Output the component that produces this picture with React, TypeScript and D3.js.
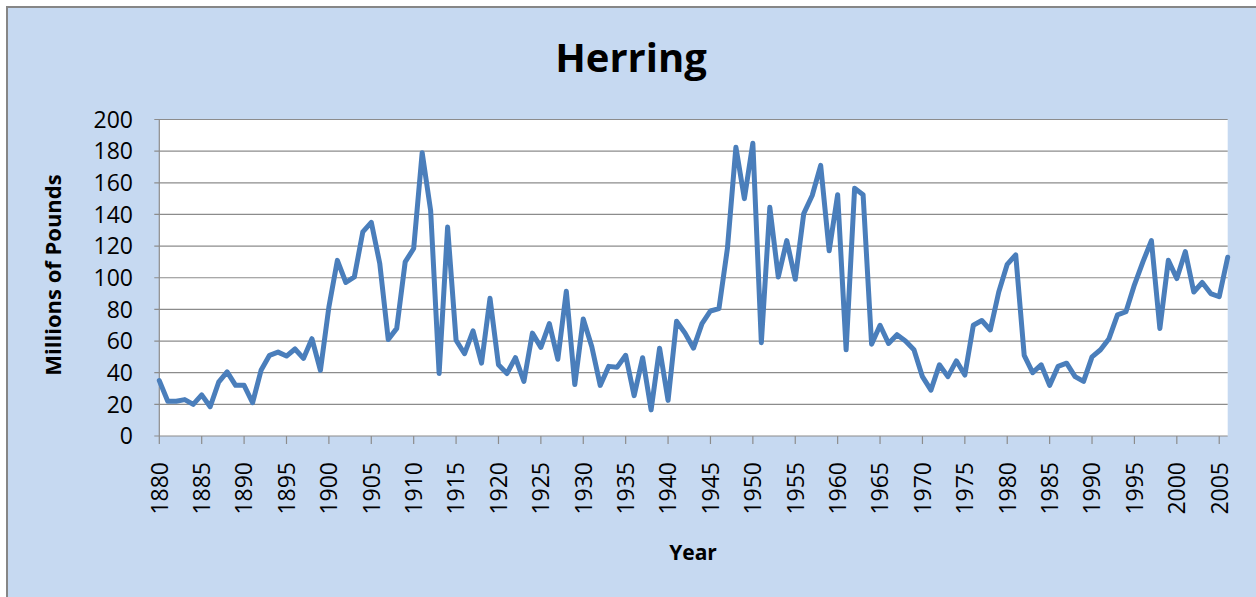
import React from "react";
import * as d3 from "d3";

const title = "Herring";
const xLabel = "Year";
const yLabel = "Millions of Pounds";
const startYear = 1880;
const endYear = 2006;
const years: number[] = d3.range(startYear, endYear + 1);
const pounds: number[] = [
  35, 22, 22, 23, 20, 26, 18.5, 34, 40.5, 32,
  32, 21, 41.5, 51, 53, 50.5, 55, 49, 61.5, 41.5,
  81.5, 111, 97, 100.5, 129, 135, 109, 61, 68, 110,
  118.5, 179, 142.5, 39.5, 132, 60.5, 52, 66.5, 46, 87,
  45, 39.5, 49.5, 34.5, 65, 56, 71, 48.5, 91.5, 32.5,
  74, 56.5, 32, 44, 43.5, 51, 25.5, 49.5, 16.5, 55.5,
  22.5, 72.5, 65, 55.5, 71, 79, 80.5, 118.5, 182.5, 150,
  185, 59, 144.5, 100.5, 123.5, 99, 140.5, 152, 171, 117,
  152.5, 54.5, 156.5, 152.5, 58, 70, 58.5, 64, 60, 54.5,
  37.5, 29, 45, 37.5, 47.5, 38.5, 70, 73, 67, 91,
  108.5, 114.5, 51, 40, 45, 32, 44, 46, 37.5, 34.5,
  50, 54.5, 61.5, 76.5, 78.5, 95.5, 110, 123.5, 68, 111,
  99.5, 116.5, 91, 97, 90, 88, 113,
];
const xTickYears: number[] = d3.range(1880, 2006, 5);
const yTicks: number[] = [0, 20, 40, 60, 80, 100, 120, 140, 160, 180, 200];

const W = 1256;
const H = 597;
const plot = { left: 159.3, right: 1227.7, top: 119.5, bottom: 436 };
const font = "'Open Sans', 'Liberation Sans', sans-serif";

export default function App() {
  const x = d3.scaleLinear().domain([startYear, endYear]).range([plot.left, plot.right]);
  const y = d3.scaleLinear().domain([0, 200]).range([plot.bottom, plot.top]);
  const line = d3
    .line<number>()
    .x((_, i) => x(years[i]))
    .y((d) => y(d));

  return (
    <svg
      width={W}
      height={H}
      style={{ position: "absolute", left: 0, top: 0, display: "block" }}
      fontFamily={font}
    >
      <rect x={0} y={0} width={W} height={H} fill="#ffffff" />
      <rect x={7} y={7} width={W + 10} height={H + 10} fill="#C6D9F1" stroke="#868686" strokeWidth={2} />
      <rect
        x={plot.left}
        y={plot.top}
        width={plot.right - plot.left}
        height={plot.bottom - plot.top}
        fill="#ffffff"
      />
      {yTicks.map((t) => (
        <g key={"y" + t}>
          <line x1={plot.left - 5} x2={plot.right} y1={y(t)} y2={y(t)} stroke="#8c8c8c" strokeWidth={1.2} />
          <text x={133} y={y(t)} dy="0.36em" textAnchor="end" fontSize={23} fill="#000">
            {t}
          </text>
        </g>
      ))}
      <line x1={plot.left} x2={plot.left} y1={plot.top} y2={plot.bottom} stroke="#8c8c8c" strokeWidth={1.2} />
      {xTickYears.map((yr) => (
        <g key={"x" + yr}>
          <line x1={x(yr)} x2={x(yr)} y1={plot.bottom} y2={plot.bottom + 8} stroke="#8c8c8c" strokeWidth={1.2} />
          <text
            transform={`translate(${x(yr)},462) rotate(-90)`}
            textAnchor="end"
            dy="0.36em"
            fontSize={23}
            fill="#000"
          >
            {yr}
          </text>
        </g>
      ))}
      <path
        d={line(pounds) || ""}
        fill="none"
        stroke="#4A7EBB"
        strokeWidth={5}
        strokeLinejoin="round"
        strokeLinecap="round"
      />
      <text x={631} y={72} textAnchor="middle" fontSize={40} fontWeight="bold" fill="#000">
        {title}
      </text>
      <text
        transform={`translate(61,275) rotate(-90)`}
        textAnchor="middle"
        fontSize={22}
        fontWeight="bold"
        fill="#000"
      >
        {yLabel}
      </text>
      <text x={693} y={560} textAnchor="middle" fontSize={21} fontWeight="bold" fill="#000">
        {xLabel}
      </text>
    </svg>
  );
}
